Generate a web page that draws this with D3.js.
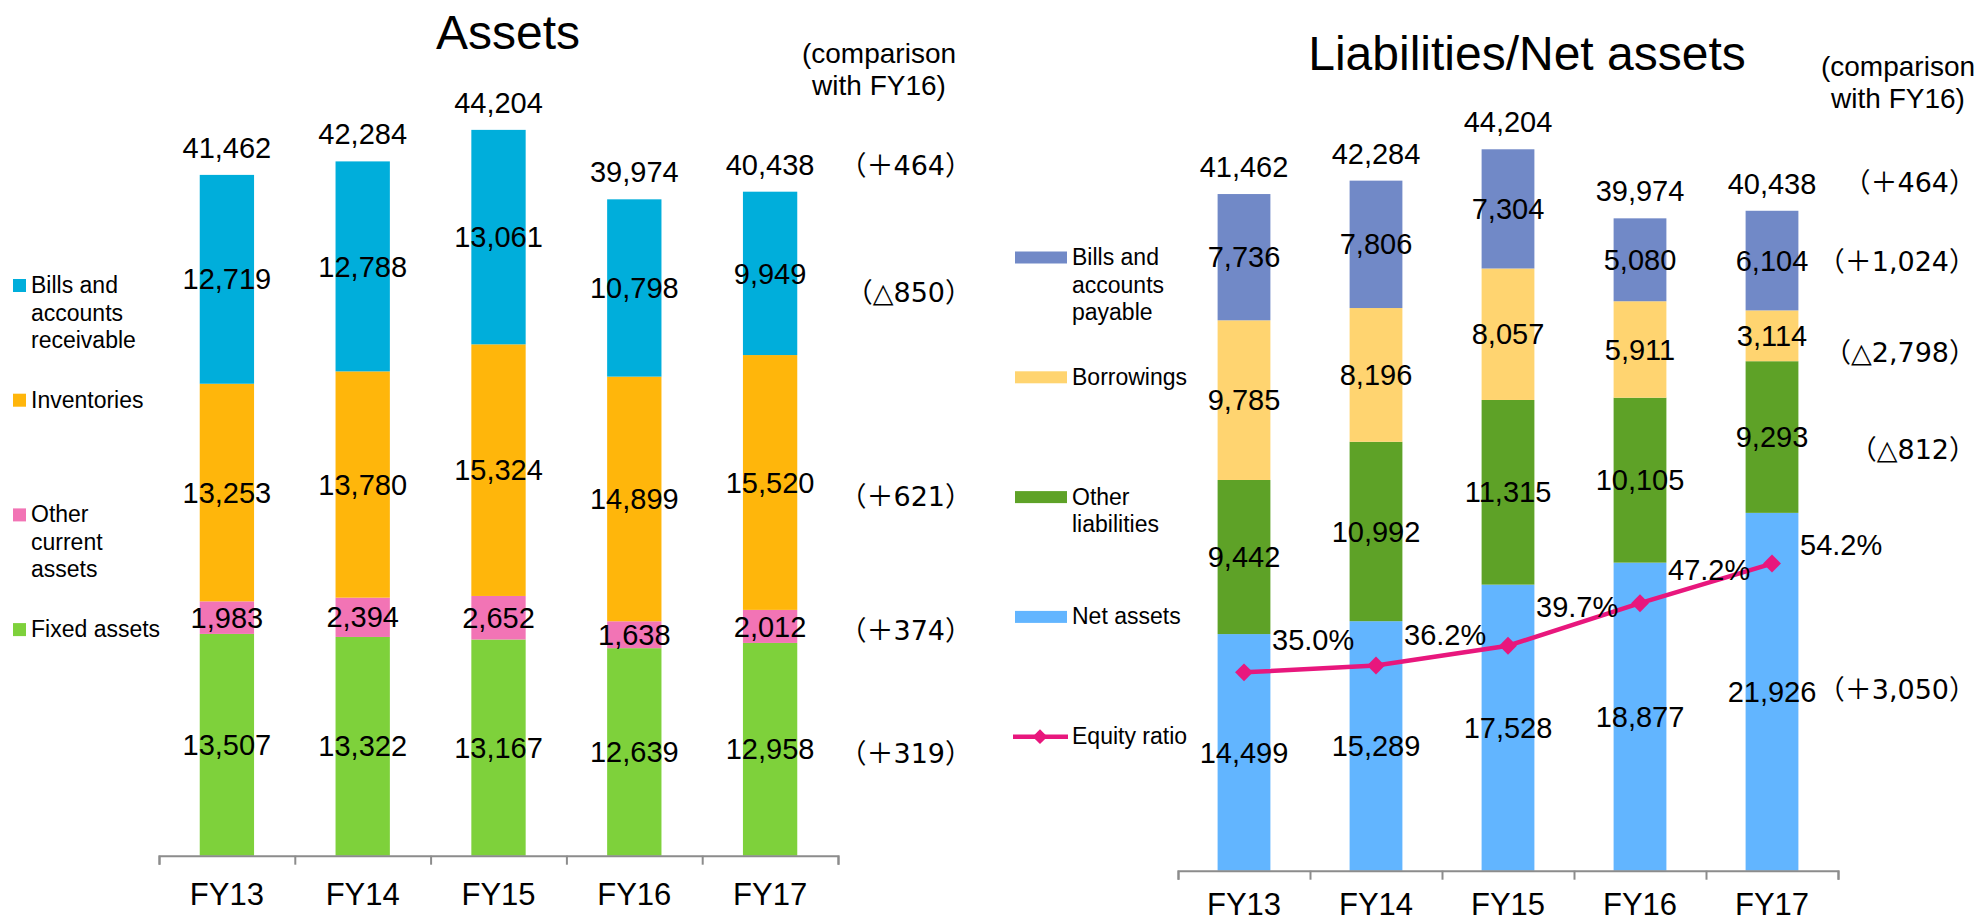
<!DOCTYPE html>
<html>
<head>
<meta charset="utf-8">
<script src="https://cdn.jsdelivr.net/npm/d3@7"></script>
<style>
  body { margin: 0; background: #fff; }
  text { font-family: "Liberation Sans", Arial, sans-serif; fill: #000; }
</style>
</head>
<body>
<script>
// ---- data ----
const categories = ["FY13", "FY14", "FY15", "FY16", "FY17"];

// assets (bottom to top)
const fixedAssets = [13507, 13322, 13167, 12639, 12958];
const otherCurrent = [1983, 2394, 2652, 1638, 2012];
const inventories = [13253, 13780, 15324, 14899, 15520];
const billsReceivable = [12719, 12788, 13061, 10798, 9949];
const assetTotals = [41462, 42284, 44204, 39974, 40438];

// liabilities / net assets (bottom to top)
const netAssets = [14499, 15289, 17528, 18877, 21926];
const otherLiabilities = [9442, 10992, 11315, 10105, 9293];
const borrowings = [9785, 8196, 8057, 5911, 3114];
const billsPayable = [7736, 7806, 7304, 5080, 6104];
const liabTotals = [41462, 42284, 44204, 39974, 40438];
const equityRatio = [35.0, 36.2, 39.7, 47.2, 54.2];

// comparison with FY16: total first, then top segment down to bottom
const assetNotes = ["（＋464）", "（△850）", "（＋621）", "（＋374）", "（＋319）"];
const liabNotes = ["（＋464）", "（＋1,024）", "（△2,798）", "（△812）", "（＋3,050）"];

const svg = d3.select("body").append("svg")
    .attr("width", 1976).attr("height", 922);

const NUM = 29;

function stackedChart(o) {
    const rows = categories.map((c, i) => {
        const r = { cat: c };
        o.series.forEach(s => r[s.key] = s.values[i]);
        return r;
    });
    const stack = d3.stack().keys(o.series.map(s => s.key))(rows);

    const x = d3.scaleBand().domain(categories).range(o.xRange)
        .paddingInner(0.6).paddingOuter(0.3);
    const y = d3.scaleLinear().domain([0, 50000]).range([o.base, o.base - o.pxPer50k]);

    const g = svg.append("g");

    // bars
    const layer = g.selectAll(".layer").data(stack).enter().append("g")
        .attr("fill", (d, i) => o.series[i].color);
    layer.selectAll("rect").data(d => d).enter().append("rect")
        .attr("x", d => x(d.data.cat))
        .attr("width", x.bandwidth())
        .attr("y", d => y(d[1]))
        .attr("height", d => y(d[0]) - y(d[1]));

    // segment labels
    layer.selectAll("text").data(d => d).enter().append("text")
        .attr("x", d => x(d.data.cat) + x.bandwidth() / 2)
        .attr("y", d => (y(d[0]) + y(d[1])) / 2)
        .attr("dy", "0.35em")
        .attr("text-anchor", "middle")
        .style("font-size", NUM + "px")
        .text(d => d3.format(",")(d[1] - d[0]));

    // totals
    g.selectAll(".tot").data(o.totals).enter().append("text")
        .attr("x", (d, i) => x(categories[i]) + x.bandwidth() / 2)
        .attr("y", (d, i) => y(d3.sum(o.series, s => s.values[i])) - 17)
        .attr("text-anchor", "middle")
        .style("font-size", NUM + "px")
        .text(d => d3.format(",")(d));

    // axis line + ticks at category boundaries
    const edges = d3.scaleLinear().domain([0, categories.length]).range(o.xRange);
    g.append("g").attr("transform", `translate(0,${o.base})`)
        .call(d3.axisBottom(edges).ticks(categories.length).tickSize(9).tickSizeOuter(9).tickFormat(""))
        .call(a => a.selectAll("path,line").attr("stroke", "#8c8c8c").attr("stroke-width", 2));
    g.append("g").attr("transform", `translate(0,${o.base})`)
        .call(d3.axisBottom(x).tickSize(0).tickPadding(o.labelPad))
        .call(a => a.select(".domain").remove())
        .call(a => a.selectAll("text")
            .attr("font-family", null)
            .style("font-size", "31px").attr("fill", "#000"));

    // title and comparison header
    g.append("text").attr("x", o.titleX).attr("y", o.titleY)
        .attr("text-anchor", "middle").style("font-size", "48px").text(o.title);
    g.append("text").attr("x", o.headX).attr("y", o.headY)
        .attr("text-anchor", "middle").style("font-size", "28px")
        .selectAll("tspan").data(["(comparison", "with FY16)"]).enter().append("tspan")
        .attr("x", o.headX).attr("dy", (d, i) => i ? 32 : 0).text(d => d);

    // comparison notes, aligned with the FY17 column
    const last = categories.length - 1;
    const lastTotal = d3.sum(o.series, s => s.values[last]);
    const noteY = [y(lastTotal) - 17 - 10];
    stack.slice().reverse().forEach(s => noteY.push((y(s[last][0]) + y(s[last][1])) / 2));
    g.selectAll(".note").data(o.notes).enter().append("text")
        .attr("x", o.noteX)
        .attr("y", (d, i) => noteY[i] + o.noteNudge[i])
        .attr("dy", "0.35em")
        .attr("text-anchor", "end")
        .style("font-family", "'DejaVu Sans', 'Noto Sans CJK JP', sans-serif")
        .style("font-size", "27px")
        .text(d => d);

    return { x, y, g };
}

// ---- left: Assets ----
const left = stackedChart({
    xRange: [159, 838], base: 855.7, pxPer50k: 821, labelPad: 27,
    series: [
        { key: "fixed", values: fixedAssets, color: "#7ed13b" },
        { key: "other", values: otherCurrent, color: "#f274b5" },
        { key: "inv", values: inventories, color: "#ffb60b" },
        { key: "bills", values: billsReceivable, color: "#00aedb" }
    ],
    totals: assetTotals,
    title: "Assets", titleX: 508, titleY: 49,
    headX: 879, headY: 63,
    notes: assetNotes, noteX: 972, noteNudge: [1, 19, 14, 4, 4]
});

// ---- right: Liabilities / Net assets ----
const right = stackedChart({
    xRange: [1178, 1838], base: 870.7, pxPer50k: 816, labelPad: 22,
    series: [
        { key: "net", values: netAssets, color: "#62b5ff" },
        { key: "oliab", values: otherLiabilities, color: "#5ea227" },
        { key: "borrow", values: borrowings, color: "#ffd470" },
        { key: "bpay", values: billsPayable, color: "#7189c7" }
    ],
    totals: liabTotals,
    title: "Liabilities/Net assets", titleX: 1527, titleY: 70,
    headX: 1898, headY: 76,
    notes: liabNotes, noteX: 1976, noteNudge: [-1, 1, 17, 13, -2]
});

// equity ratio line on a secondary scale
const y2 = d3.scaleLinear().domain([0, 100]).range([870.7, 304]);
const rx = right.x;
const cx = (d, i) => rx(categories[i]) + rx.bandwidth() / 2;
const pink = "#e8177d";
right.g.append("path")
    .datum(equityRatio)
    .attr("fill", "none").attr("stroke", pink).attr("stroke-width", 4.5)
    .attr("d", d3.line().x(cx).y(d => y2(d)));
right.g.selectAll(".mk").data(equityRatio).enter().append("path")
    .attr("transform", (d, i) => `translate(${cx(d, i)},${y2(d)}) rotate(45)`)
    .attr("d", d3.symbol(d3.symbolSquare, 160))
    .attr("fill", pink);
const pctNudge = [-33, -31, -39, -33, -19];
right.g.selectAll(".pct").data(equityRatio).enter().append("text")
    .attr("x", (d, i) => cx(d, i) + 28)
    .attr("y", (d, i) => y2(d) + pctNudge[i])
    .attr("dy", "0.35em")
    .style("font-size", NUM + "px")
    .text(d => d.toFixed(1) + "%");

// ---- legends ----
const leftLegend = [
    { lines: ["Bills and", "accounts", "receivable"], color: "#00aedb" },
    { lines: ["Inventories"], color: "#ffb60b" },
    { lines: ["Other", "current", "assets"], color: "#f274b5" },
    { lines: ["Fixed assets"], color: "#7ed13b" }
];
const ll = svg.append("g").selectAll("g").data(leftLegend).enter().append("g")
    .attr("transform", (d, i) => `translate(13,${279 + i * 114.7})`);
ll.append("rect").attr("width", 13).attr("height", 13).attr("fill", d => d.color);
ll.append("text").attr("y", 14).style("font-size", "23px")
    .selectAll("tspan").data(d => d.lines).enter().append("tspan")
    .attr("x", 18).attr("dy", (d, i) => i ? 27.5 : 0).text(d => d);

const rightLegend = [
    { lines: ["Bills and", "accounts", "payable"], color: "#7189c7" },
    { lines: ["Borrowings"], color: "#ffd470" },
    { lines: ["Other", "liabilities"], color: "#5ea227" },
    { lines: ["Net assets"], color: "#62b5ff" },
    { lines: ["Equity ratio"], color: pink, line: true }
];
const rl = svg.append("g").selectAll("g").data(rightLegend).enter().append("g")
    .attr("transform", (d, i) => `translate(1015,${257.5 + i * 119.8})`);
rl.filter(d => !d.line).append("rect")
    .attr("y", -6).attr("width", 52).attr("height", 12).attr("fill", d => d.color);
rl.filter(d => d.line).append("line")
    .attr("x1", -2).attr("x2", 53).attr("stroke", d => d.color).attr("stroke-width", 4.5);
rl.filter(d => d.line).append("path")
    .attr("transform", "translate(25,0) rotate(45)")
    .attr("d", d3.symbol(d3.symbolSquare, 110)).attr("fill", d => d.color);
rl.append("text").attr("y", 7.5).style("font-size", "23px")
    .selectAll("tspan").data(d => d.lines).enter().append("tspan")
    .attr("x", 57).attr("dy", (d, i) => i ? 27.5 : 0).text(d => d);
</script>
</body>
</html>
